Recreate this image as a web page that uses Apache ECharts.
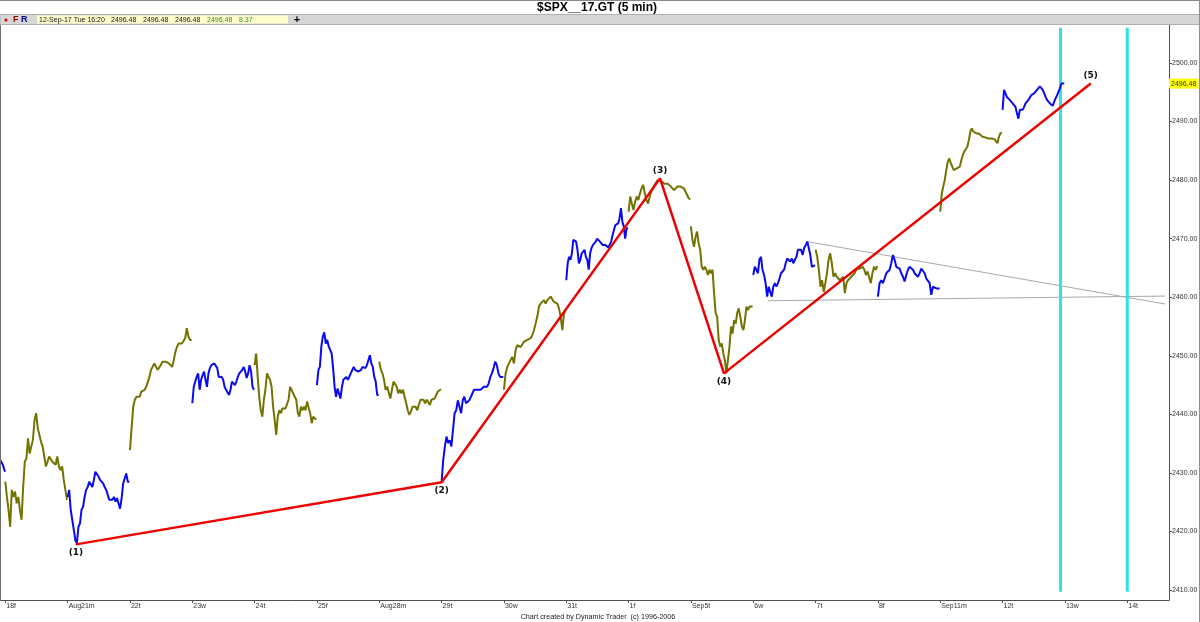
<!DOCTYPE html>
<html>
<head>
<meta charset="utf-8">
<script src="https://cdn.jsdelivr.net/npm/echarts@6/dist/echarts.min.js"></script>
<style>
html,body{margin:0;padding:0;background:#fff;}
#chart{width:1200px;height:622px;}
</style>
</head>
<body>
<div id="chart"></div>
<script>
// ---------- DATA ----------
const dayLabels = ['18f','Aug21m','22t','23w','24t','25f','Aug28m','29t','30w','31t','1f','Sep5t','6w','7t','8f','Sep11m','12t','13w','14t'];
const priceTicks = [2410,2420,2430,2440,2450,2460,2470,2480,2490,2500];
const lastPrice = 2496.48;

// 5-min closes (one array per session)
const aug17Tail = [2433.9,2432.2,2431.5,2430.2];
const aug18 = [2428.5,2425.9,2423.7,2420.8,2427.1,2425.9,2426.8,2424.8,2425.9,2423.7,2422.0,2427.6,2431.9,2432.5,2435.9,2433.3,2434.5,2435.6,2439.0,2440.2,2437.6,2436.5,2435.3,2434.5,2432.8,2431.1,2431.9,2432.8,2432.8,2431.9,2431.6,2431.4,2432.8,2431.1,2430.5,2431.1,2428.8,2427.1,2425.4];
const aug21 = [2425.9,2427.1,2423.7,2422.0,2420.3,2418.5,2418.0,2420.8,2421.4,2423.7,2424.2,2425.9,2427.1,2427.6,2428.5,2428.2,2427.6,2428.8,2430.2,2430.5,2429.4,2428.8,2428.5,2428.2,2427.6,2427.1,2426.8,2425.4,2425.1,2425.4,2425.9,2425.1,2425.7,2425.4,2423.9,2425.7,2428.2,2429.1,2429.9,2428.5,2428.5];
const aug22 = [2433.9,2437.6,2441.3,2442.5,2443.0,2443.3,2443.0,2443.9,2443.9,2444.2,2444.7,2445.0,2446.4,2447.6,2447.9,2448.7,2449.0,2447.6,2447.9,2448.4,2449.0,2449.3,2449.0,2449.0,2448.7,2448.4,2448.1,2449.3,2450.7,2451.6,2452.1,2452.4,2452.1,2452.4,2453.0,2454.7,2453.3,2452.7,2452.7];
const aug23 = [2441.9,2444.7,2445.6,2446.4,2447.0,2444.2,2445.9,2446.7,2447.3,2445.9,2444.7,2447.0,2447.9,2448.4,2448.7,2448.7,2448.7,2447.9,2446.4,2446.2,2446.4,2445.9,2444.7,2444.2,2444.5,2443.3,2444.2,2445.6,2445.9,2445.0,2445.6,2446.4,2447.0,2447.3,2447.6,2448.1,2447.3,2446.2,2447.0,2448.4,2447.3,2444.7,2444.2];
const aug24 = [2448.4,2450.4,2446.4,2443.0,2440.7,2439.6,2442.5,2444.2,2447.0,2447.3,2445.9,2444.7,2441.3,2439.0,2436.5,2439.6,2440.7,2440.2,2441.0,2441.3,2441.0,2441.3,2442.5,2444.7,2445.0,2443.6,2443.0,2442.5,2440.2,2439.6,2441.3,2440.7,2441.3,2440.7,2442.2,2442.5,2440.2,2438.5,2439.6,2439.3,2439.1];
const aug25 = [2445.0,2447.6,2448.1,2451.6,2453.3,2454.0,2452.1,2452.7,2451.6,2451.0,2450.4,2447.9,2444.7,2443.0,2444.4,2444.2,2442.7,2444.7,2445.9,2445.6,2446.4,2445.9,2446.4,2447.0,2447.3,2448.1,2447.6,2447.6,2447.3,2447.0,2447.6,2448.1,2448.4,2447.9,2448.4,2448.7,2450.1,2448.7,2448.1,2446.4,2445.6,2443.3,2443.3];
const aug28 = [2449.0,2447.6,2447.0,2445.9,2444.2,2444.7,2444.4,2442.7,2444.2,2445.6,2445.3,2444.7,2443.6,2444.2,2443.6,2444.2,2443.0,2441.9,2440.7,2439.9,2440.5,2441.3,2441.6,2441.3,2440.7,2441.6,2442.5,2442.7,2442.5,2441.9,2442.5,2442.2,2441.6,2442.5,2442.2,2442.7,2443.3,2443.9,2444.2,2444.3];
const aug29 = [2428.5,2432.2,2434.5,2436.2,2435.1,2435.6,2434.5,2437.3,2440.2,2440.7,2442.4,2441.3,2440.2,2442.4,2443.0,2441.9,2441.6,2442.4,2443.0,2443.6,2444.2,2444.4,2444.2,2444.4,2444.2,2444.4,2444.7,2444.4,2444.7,2445.3,2446.4,2447.0,2447.9,2449.0,2448.4,2447.0,2446.4,2446.2,2446.4];
const aug30 = [2444.2,2447.0,2448.1,2448.7,2449.3,2449.8,2448.7,2451.0,2451.8,2452.1,2451.5,2451.8,2452.4,2452.4,2452.7,2452.4,2453.0,2453.5,2454.4,2455.5,2456.7,2458.4,2458.9,2459.2,2459.5,2458.9,2459.5,2459.2,2460.1,2459.8,2459.2,2458.9,2458.9,2458.1,2456.7,2454.4,2457.2,2457.8];
const aug31 = [2462.9,2465.8,2466.9,2466.4,2467.5,2469.8,2470.0,2469.5,2468.1,2465.8,2466.4,2467.5,2467.8,2468.1,2466.9,2466.4,2464.7,2467.5,2468.4,2468.9,2469.2,2469.5,2470.0,2469.8,2469.5,2469.2,2468.9,2468.6,2468.9,2468.6,2468.5,2468.7,2469.5,2470.6,2471.5,2472.3,2472.1,2472.6,2473.5,2475.2,2472.9,2472.1,2470.0,2471.8,2471.8];
const sep1 = [2474.6,2477.2,2476.0,2474.9,2476.3,2477.2,2476.6,2477.7,2478.6,2479.2,2477.7,2476.6,2476.0,2477.2,2478.0,2478.6,2479.2,2479.4,2480.0,2480.3,2479.9,2479.7,2479.4,2479.2,2479.4,2479.2,2478.9,2478.6,2478.3,2478.6,2478.9,2478.6,2478.9,2479.0,2478.6,2478.3,2477.5,2476.9,2476.7];
const sep5 = [2472.1,2469.8,2468.6,2470.3,2471.2,2469.2,2468.1,2465.2,2464.7,2465.2,2464.7,2463.8,2464.7,2464.1,2464.7,2460.7,2457.3,2456.7,2452.7,2451.6,2452.1,2450.4,2449.3,2447.0,2449.3,2451.6,2455.0,2453.8,2456.1,2455.5,2457.3,2458.1,2456.7,2455.0,2454.4,2456.1,2458.4,2457.8,2458.4,2458.1,2458.4];
const sep6 = [2463.8,2465.2,2464.7,2464.1,2466.4,2466.9,2464.7,2463.8,2462.4,2460.1,2461.8,2462.1,2460.1,2461.8,2462.4,2461.8,2462.4,2463.2,2464.1,2463.8,2464.7,2465.8,2466.6,2466.4,2466.1,2466.6,2465.8,2466.4,2466.9,2468.1,2467.8,2468.1,2467.2,2468.4,2468.9,2469.5,2468.4,2467.2,2465.2,2465.5,2465.5];
const sep7 = [2468.1,2466.9,2464.7,2461.8,2462.9,2460.9,2462.4,2464.1,2466.4,2467.5,2465.8,2463.5,2464.1,2463.5,2463.8,2462.9,2463.2,2463.5,2460.7,2462.4,2462.9,2463.2,2463.5,2463.8,2464.1,2464.7,2464.4,2464.9,2464.7,2465.2,2464.7,2463.8,2464.4,2464.7,2462.4,2464.1,2465.2,2464.7,2465.3];
const sep8 = [2460.1,2462.4,2462.9,2462.4,2463.2,2464.1,2463.8,2464.7,2465.8,2467.2,2466.4,2465.2,2465.5,2464.9,2464.1,2463.5,2462.7,2463.8,2464.7,2465.2,2464.9,2464.7,2464.1,2464.4,2463.5,2464.1,2464.9,2464.6,2464.1,2463.2,2462.9,2462.4,2460.4,2461.8,2461.5,2461.5,2461.5,2461.5];
const sep11 = [2474.6,2477.7,2478.9,2480.0,2481.7,2483.1,2483.7,2482.9,2482.3,2481.7,2481.4,2482.0,2481.7,2482.3,2483.4,2484.3,2484.9,2485.1,2485.7,2486.8,2488.3,2488.8,2488.3,2488.0,2488.0,2487.7,2487.9,2487.7,2487.4,2487.5,2487.3,2487.4,2487.1,2487.4,2487.1,2487.3,2487.0,2487.1,2486.3,2487.4,2488.0,2488.1];
const sep12 = [2492.0,2495.4,2494.8,2494.2,2494.5,2493.7,2494.0,2493.1,2493.4,2492.5,2491.4,2490.5,2492.0,2492.3,2492.0,2492.5,2493.1,2493.4,2493.7,2494.0,2494.5,2494.8,2494.8,2495.1,2495.4,2495.5,2496.0,2496.1,2495.4,2494.8,2494.2,2493.7,2493.4,2493.1,2492.8,2492.7,2493.4,2494.0,2494.5,2494.8,2495.7,2496.5,2496.6,2496.48];

// session order (trading-day index on the axis) and its colour tone
const sessionDays  = [0,1,2,3,4,5,6,7,8,9,10,11,12,13,14,15,16];
const sessionTones = ['o','b','o','b','o','b','o','b','o','b','o','o','b','o','b','o','b'];
const sessionData  = [aug18,aug21,aug22,aug23,aug24,aug25,aug28,aug29,aug30,aug31,sep1,sep5,sep6,sep7,sep8,sep11,sep12];

// Elliott wave pivots (trading-day position, price)
const waveDays   = [1.134, 7.001, 10.504, 11.53, 17.414];
const wavePrices = [2417.8, 2428.4, 2480.3, 2447.0, 2496.5];
const waveNames  = ['(1)','(2)','(3)','(4)','(5)'];
const waveLabelPos = ['bottom','bottom','top','bottom','top'];

// triangle lines
const triUpperDays = [12.86, 18.605];  const triUpperPrices = [2469.5, 2458.85];
const triLowerDays = [12.24, 18.605];  const triLowerPrices = [2459.4, 2460.2];

// time cycle verticals
const cycleDays = [16.93, 18.0];

// ---------- CHART ----------
const BLUE = '#0a0af0', OLIVE = '#737300';
const chart = echarts.init(document.getElementById('chart'), null, {renderer:'canvas'});
const X_MIN = -0.069, X_MAX = 18.67, Y_MIN = 2408.3, Y_MAX = 2507.0;
const FONT = 'Liberation Sans, Arial, sans-serif';

const series = [];
function sessionSeries(days0, vals, color, start, end, extra) {
  const n = vals.length;
  return Object.assign({
    type:'line', data: vals.map((v,i)=>[days0 + start + (end-start)*i/(n-1), v]),
    showSymbol:false, symbol:'none', silent:true, animation:false,
    lineStyle:{color, width:2}, z:3
  }, extra || {});
}
series.push(sessionSeries(-1, aug17Tail, BLUE, 0.88, 0.995));
sessionData.forEach((vals,i)=>{
  const isLast = i === sessionData.length - 1;
  const extra = isLast ? {
    markLine:{
      silent:true, symbol:'none', animation:false,
      lineStyle:{color:'rgba(0,0,0,0)', width:1, type:'solid'},
      label:{show:true, position:'end', distance:0, formatter:()=>lastPrice.toFixed(2),
             backgroundColor:'#ffff00', color:'#333', fontSize:7, fontFamily:FONT, padding:[2,2,1,2], opacity:1},
      emphasis:{disabled:true},
      data:[{yAxis:lastPrice}]
    }
  } : null;
  series.push(sessionSeries(sessionDays[i], vals, sessionTones[i]==='b'?BLUE:OLIVE, 0.0, 0.99, extra));
});
// triangle
series.push({type:'line', data: triUpperDays.map((d,i)=>[d, triUpperPrices[i]]), symbol:'none', silent:true, animation:false, lineStyle:{color:'#a8a8a8', width:1}, z:2});
series.push({type:'line', data: triLowerDays.map((d,i)=>[d, triLowerPrices[i]]), symbol:'none', silent:true, animation:false, lineStyle:{color:'#a8a8a8', width:1}, z:2});
// cycles
cycleDays.forEach(d=>{
  series.push({type:'line', data:[[d, 2409.7],[d, 2506.0]], symbol:'none', silent:true, animation:false, lineStyle:{color:'#30e0ea', width:3}, z:2});
});
// waves
series.push({
  type:'line', animation:false, silent:true, z:5,
  data: waveDays.map((d,i)=>({value:[d, wavePrices[i]], label:{show:true, position:waveLabelPos[i], formatter:waveNames[i]}})),
  symbol:'circle', symbolSize:1, showSymbol:true,
  itemStyle:{color:'#ee0000'},
  lineStyle:{color:'#ee0000', width:2.5},
  label:{show:true, fontSize:9, fontWeight:'bold', color:'#111', distance:3, fontFamily:'DejaVu Sans, sans-serif'}
});

const option = {
  backgroundColor:'#ffffff',
  animation:false,
  grid:{left:1, right:31, top:22, bottom:22, containLabel:false, outerBoundsMode:'none'},
  xAxis:{
    type:'value', min:X_MIN, max:X_MAX,
    axisLine:{show:true, onZero:false, lineStyle:{color:'#505050', width:1}},
    axisTick:{show:true, customValues: dayLabels.map((_,i)=>i), length:3, lineStyle:{color:'#505050'}},
    axisLabel:{show:true, customValues: dayLabels.map((_,i)=>i), formatter:v=>dayLabels[Math.round(v)], align:'left', margin:3, fontSize:7, color:'#333', fontFamily:FONT, padding:[0,0,0,1]},
    splitLine:{show:false}
  },
  yAxis:{
    type:'value', position:'right', min:Y_MIN, max:Y_MAX,
    axisLine:{show:true, onZero:false, lineStyle:{color:'#505050', width:1}},
    axisTick:{show:true, customValues: priceTicks, length:3, lineStyle:{color:'#505050'}},
    axisLabel:{show:true, customValues: priceTicks, formatter:v=>v.toFixed(2), margin:3, fontSize:7, color:'#333', fontFamily:FONT},
    splitLine:{show:false}
  },
  series,
  graphic:[
    {type:'rect', shape:{x:0, y:0, width:1200, height:1}, style:{fill:'#888'}, z:10},
    {type:'text', x:597, y:8, style:{text:'$SPX__17.GT (5 min)', font:'bold 12px Liberation Sans, Arial, sans-serif', fill:'#000', textAlign:'center', textVerticalAlign:'middle'}, z:10},
    {type:'rect', shape:{x:0, y:14.5, width:1200, height:10}, style:{fill:'#d6d6d6', stroke:'#b0b0b0', lineWidth:1}, z:10},
    {type:'circle', shape:{cx:6, cy:20, r:1.6}, style:{fill:'#e00000'}, z:11},
    {type:'text', x:13, y:20, style:{text:'F', font:'bold 9px Liberation Sans, Arial', fill:'#8b0000', textVerticalAlign:'middle'}, z:11},
    {type:'text', x:21, y:20, style:{text:'R', font:'bold 9px Liberation Sans, Arial', fill:'#000080', textVerticalAlign:'middle'}, z:11},
    {type:'rect', shape:{x:37, y:15.5, width:251, height:8}, style:{fill:'#ffffcc'}, z:11},
    {type:'text', x:39, y:20, style:{text:'12-Sep-17 Tue 16:20', font:'7px '+FONT, fill:'#111', textVerticalAlign:'middle'}, z:12},
    {type:'text', x:111, y:20, style:{text:'2496.48', font:'7px '+FONT, fill:'#111', textVerticalAlign:'middle'}, z:12},
    {type:'text', x:143, y:20, style:{text:'2496.48', font:'7px '+FONT, fill:'#111', textVerticalAlign:'middle'}, z:12},
    {type:'text', x:175, y:20, style:{text:'2496.48', font:'7px '+FONT, fill:'#111', textVerticalAlign:'middle'}, z:12},
    {type:'text', x:207, y:20, style:{text:'2496.48', font:'7px '+FONT, fill:'#2e8b2e', textVerticalAlign:'middle'}, z:12},
    {type:'text', x:239, y:20, style:{text:'8.37', font:'7px '+FONT, fill:'#2e8b2e', textVerticalAlign:'middle'}, z:12},
    {type:'text', x:297, y:20, style:{text:'+', font:'bold 11px Liberation Sans, Arial', fill:'#000', textAlign:'center', textVerticalAlign:'middle'}, z:12},
    {type:'rect', shape:{x:0, y:25, width:1, height:576}, style:{fill:'#707070'}, z:10},
    {type:'rect', shape:{x:1199, y:0, width:1, height:622}, style:{fill:'#909090'}, z:10},
    {type:'text', x:598, y:617, style:{text:'Chart created by Dynamic Trader  (c) 1996-2006', font:'7.2px '+FONT, fill:'#222', textAlign:'center', textVerticalAlign:'middle'}, z:10}
  ]
};
chart.setOption(option);
</script>
</body>
</html>
